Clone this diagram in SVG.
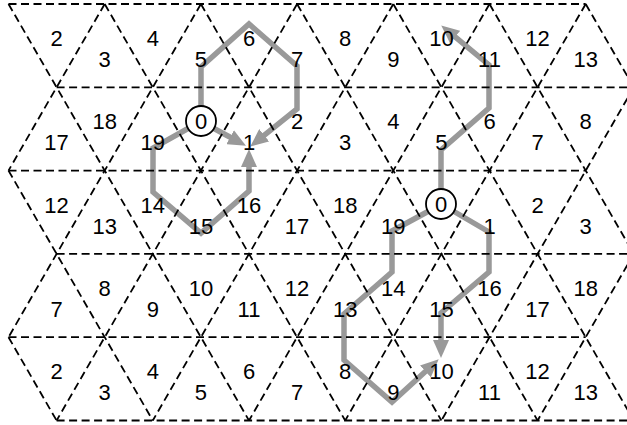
<svg xmlns="http://www.w3.org/2000/svg" width="627" height="425" viewBox="0 0 627 425">
<style>
.grid line{stroke:#000;stroke-width:1.8;stroke-dasharray:8 4.5;fill:none}
.conn path{stroke:#999;stroke-width:5.5;fill:none;stroke-linejoin:miter;marker-end:url(#ah)}
text{font-family:"Liberation Sans",Arial,sans-serif;font-size:22px;fill:#000;text-anchor:middle}
.ring{fill:#fff;stroke:#000;stroke-width:1.8}
</style>
<defs>
<marker id="ah" viewBox="0 0 18 16" refX="7" refY="8" markerWidth="18" markerHeight="16" markerUnits="userSpaceOnUse" orient="auto">
<path d="M0,0 L18,8 L0,16 z" fill="#999"/>
</marker>
</defs>
<rect width="627" height="425" fill="#fff"/>
<g id="connectors" class="conn">
<path d="M201,106 L201,67 L249,24 L297,66 L297,109 L258.8,139.7"/>
<path d="M214,128.5 L236.3,140.5"/>
<path d="M188,128.5 L153,148 L153,192 L201,233 L249,191 L249,160"/>
<path d="M441,189 L441,150 L489,108 L489,65 L449.7,32.4"/>
<path d="M454,211.5 L489,232 L489,272 L441,313 L441,347"/>
<path d="M428,211.5 L392,231 L392,272 L344,314 L344,360 L392,402 L430.6,366.7"/>
</g>
<g id="grid" class="grid">
<line x1="8.5" y1="4" x2="585.7" y2="4"/>
<line x1="56.6" y1="87.3" x2="633.8" y2="87.3"/>
<line x1="8.5" y1="170.6" x2="585.7" y2="170.6"/>
<line x1="56.6" y1="253.9" x2="633.8" y2="253.9"/>
<line x1="8.5" y1="337.2" x2="585.7" y2="337.2"/>
<line x1="56.6" y1="420.5" x2="633.8" y2="420.5"/>
<line x1="8.5" y1="4" x2="249" y2="420.5"/>
<line x1="104.7" y1="4" x2="345.2" y2="420.5"/>
<line x1="200.9" y1="4" x2="441.4" y2="420.5"/>
<line x1="297.1" y1="4" x2="537.6" y2="420.5"/>
<line x1="393.3" y1="4" x2="633.8" y2="420.5"/>
<line x1="489.5" y1="4" x2="633.8" y2="253.9"/>
<line x1="585.7" y1="4" x2="633.8" y2="87.3"/>
<line x1="8.5" y1="170.6" x2="152.8" y2="420.5"/>
<line x1="8.5" y1="337.2" x2="56.6" y2="420.5"/>
<line x1="104.7" y1="4" x2="8.5" y2="170.6"/>
<line x1="200.9" y1="4" x2="8.5" y2="337.2"/>
<line x1="297.1" y1="4" x2="56.6" y2="420.5"/>
<line x1="393.3" y1="4" x2="152.8" y2="420.5"/>
<line x1="489.5" y1="4" x2="249" y2="420.5"/>
<line x1="585.7" y1="4" x2="345.2" y2="420.5"/>
<line x1="633.8" y1="87.3" x2="441.4" y2="420.5"/>
<line x1="633.8" y1="253.9" x2="537.6" y2="420.5"/>
</g>
<g id="row0">
<g id="r0-2"><text x="56.6" y="46">2</text></g>
<g id="r0-3"><text x="104.7" y="67">3</text></g>
<g id="r0-4"><text x="152.8" y="46">4</text></g>
<g id="r0-5"><text x="200.9" y="67">5</text></g>
<g id="r0-6"><text x="249" y="46">6</text></g>
<g id="r0-7"><text x="297.1" y="67">7</text></g>
<g id="r0-8"><text x="345.2" y="46">8</text></g>
<g id="r0-9"><text x="393.3" y="67">9</text></g>
<g id="r0-10"><text x="441.4" y="46">10</text></g>
<g id="r0-11"><text x="489.5" y="67">11</text></g>
<g id="r0-12"><text x="537.6" y="46">12</text></g>
<g id="r0-13"><text x="585.7" y="67">13</text></g>
</g>
<g id="row1">
<g id="r1-17"><text x="56.6" y="150.3">17</text></g>
<g id="r1-18"><text x="104.7" y="129.3">18</text></g>
<g id="r1-19"><text x="152.8" y="150.3">19</text></g>
<g id="r1-0"><circle class="ring" cx="201" cy="121" r="15"/><text x="201" y="129">0</text></g>
<g id="r1-1"><text x="249" y="150.3">1</text></g>
<g id="r1-2"><text x="297.1" y="129.3">2</text></g>
<g id="r1-3"><text x="345.2" y="150.3">3</text></g>
<g id="r1-4"><text x="393.3" y="129.3">4</text></g>
<g id="r1-5"><text x="441.4" y="150.3">5</text></g>
<g id="r1-6"><text x="489.5" y="129.3">6</text></g>
<g id="r1-7"><text x="537.6" y="150.3">7</text></g>
<g id="r1-8"><text x="585.7" y="129.3">8</text></g>
</g>
<g id="row2">
<g id="r2-12"><text x="56.6" y="212.6">12</text></g>
<g id="r2-13"><text x="104.7" y="233.6">13</text></g>
<g id="r2-14"><text x="152.8" y="212.6">14</text></g>
<g id="r2-15"><text x="200.9" y="233.6">15</text></g>
<g id="r2-16"><text x="249" y="212.6">16</text></g>
<g id="r2-17"><text x="297.1" y="233.6">17</text></g>
<g id="r2-18"><text x="345.2" y="212.6">18</text></g>
<g id="r2-19"><text x="393.3" y="233.6">19</text></g>
<g id="r2-0"><circle class="ring" cx="441" cy="204" r="15"/><text x="441" y="212">0</text></g>
<g id="r2-1"><text x="489.5" y="233.6">1</text></g>
<g id="r2-2"><text x="537.6" y="212.6">2</text></g>
<g id="r2-3"><text x="585.7" y="233.6">3</text></g>
</g>
<g id="row3">
<g id="r3-7"><text x="56.6" y="316.9">7</text></g>
<g id="r3-8"><text x="104.7" y="295.9">8</text></g>
<g id="r3-9"><text x="152.8" y="316.9">9</text></g>
<g id="r3-10"><text x="200.9" y="295.9">10</text></g>
<g id="r3-11"><text x="249" y="316.9">11</text></g>
<g id="r3-12"><text x="297.1" y="295.9">12</text></g>
<g id="r3-13"><text x="345.2" y="316.9">13</text></g>
<g id="r3-14"><text x="393.3" y="295.9">14</text></g>
<g id="r3-15"><text x="441.4" y="316.9">15</text></g>
<g id="r3-16"><text x="489.5" y="295.9">16</text></g>
<g id="r3-17"><text x="537.6" y="316.9">17</text></g>
<g id="r3-18"><text x="585.7" y="295.9">18</text></g>
</g>
<g id="row4">
<g id="r4-2"><text x="56.6" y="379.2">2</text></g>
<g id="r4-3"><text x="104.7" y="400.2">3</text></g>
<g id="r4-4"><text x="152.8" y="379.2">4</text></g>
<g id="r4-5"><text x="200.9" y="400.2">5</text></g>
<g id="r4-6"><text x="249" y="379.2">6</text></g>
<g id="r4-7"><text x="297.1" y="400.2">7</text></g>
<g id="r4-8"><text x="345.2" y="379.2">8</text></g>
<g id="r4-9"><text x="393.3" y="400.2">9</text></g>
<g id="r4-10"><text x="441.4" y="379.2">10</text></g>
<g id="r4-11"><text x="489.5" y="400.2">11</text></g>
<g id="r4-12"><text x="537.6" y="379.2">12</text></g>
<g id="r4-13"><text x="585.7" y="400.2">13</text></g>
</g>
</svg>
